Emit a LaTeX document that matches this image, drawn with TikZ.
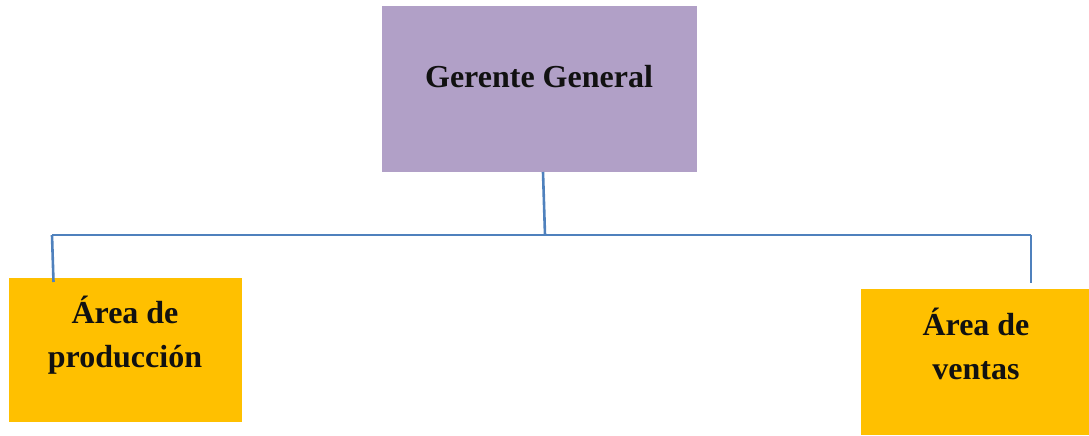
\documentclass[tikz,border=0pt]{standalone}
\usepackage{fontspec}
\setmainfont{Liberation Serif}
\definecolor{ggfill}{HTML}{B1A0C7}
\definecolor{areafill}{HTML}{FFC000}
\definecolor{connblue}{HTML}{4F81BD}
\definecolor{txt}{HTML}{111111}
\begin{document}
\begin{tikzpicture}[x=1pt,y=-1pt,
  box/.style={draw=none,inner sep=0pt,outer sep=0pt},
  lbl/.style={inner sep=0pt,outer sep=0pt,align=center,text=txt,
    font=\fontsize{32}{44}\selectfont\bfseries},
  conn/.style={draw=connblue,line width=2.6pt}]
\useasboundingbox (0,0) rectangle (1089,436);
% boxes
\node[box,fill=ggfill,minimum width=315pt,minimum height=166pt] (gg) at (539.5,89) {};
\node[box,fill=areafill,minimum width=233pt,minimum height=144pt] (prod) at (125,350) {};
\node[box,fill=areafill,minimum width=228pt,minimum height=146pt] (ventas) at (975,362) {};
% labels
\node[lbl,anchor=base] (gglbl) at (539,87) {Gerente General};
\node[lbl,anchor=base] (prodlbl) at (125,367) {Área de\\producción};
\node[lbl,anchor=base] (ventaslbl) at (976,379) {Área de\\ventas};
% connectors
\coordinate (j) at (545,235);
\coordinate (cl) at (52,235);
\coordinate (cr) at (1031,235);
\draw[conn] ([xshift=3.5pt]gg.south) -- (j);
\draw[conn] (cl) -- (cr);
\draw[conn] (cl) -- ([xshift=45pt,yshift=-4pt]prod.north west);
\draw[conn] (cr) -- ([xshift=170pt,yshift=6pt]ventas.north west);
\end{tikzpicture}
\end{document}
